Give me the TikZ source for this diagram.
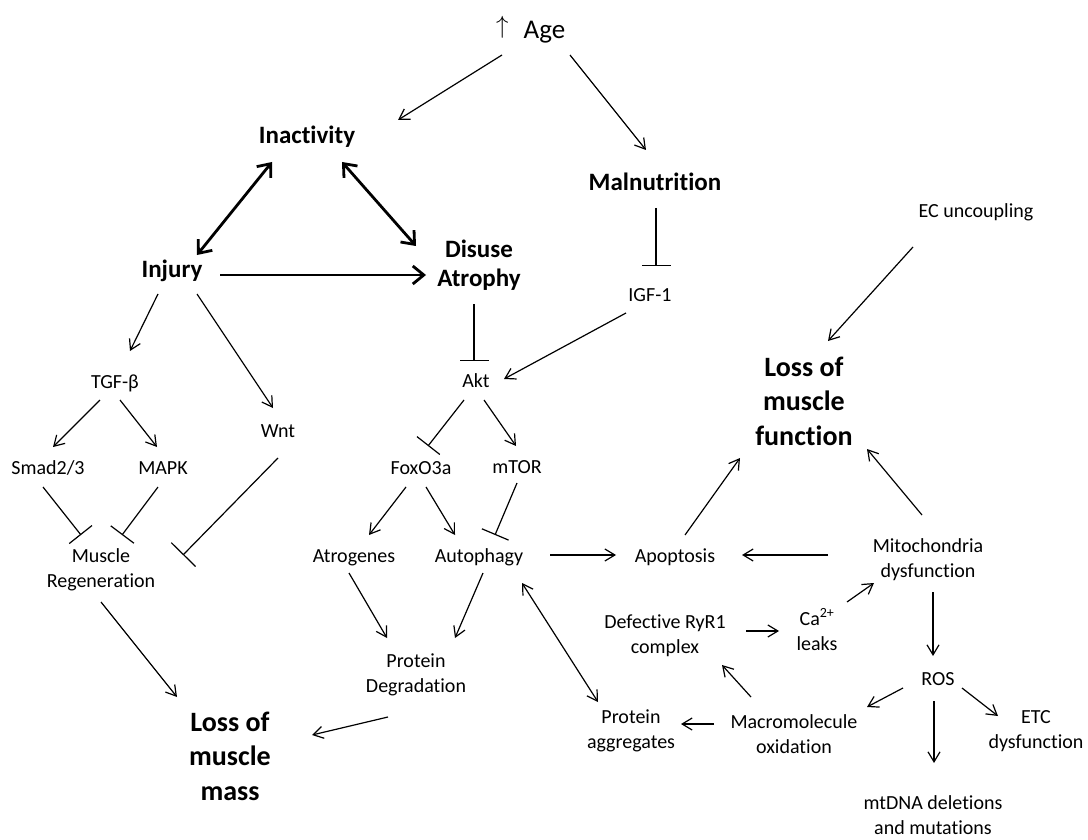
\documentclass[tikz,border=0pt]{standalone}
\usepackage{fontspec}
\setmainfont{Carlito}[Ligatures=NoCommon]
\usetikzlibrary{arrows.meta}
\begin{document}
\begin{tikzpicture}[x=1pt,y=-1pt,
  sm/.style={font=\fontsize{20}{25}\selectfont, align=center, inner sep=0pt},
  bm/.style={font=\fontsize{25}{30}\selectfont\bfseries, align=center, inner sep=0pt},
  bl/.style={font=\fontsize{28}{34.5}\selectfont\bfseries, align=center, inner sep=0pt},
  agef/.style={font=\fontsize{27}{32}\selectfont, inner sep=0pt},
  arr/.style={-{Straight Barb[length=10pt,width=12pt]}, line width=1.2pt},
  darr/.style={{Straight Barb[length=10pt,width=12pt]}-{Straight Barb[length=10pt,width=12pt]}, line width=1.2pt},
  tarr/.style={-{Straight Barb[length=11pt,width=18pt]}, line width=2.8pt},
  tdarr/.style={{Straight Barb[length=11pt,width=18pt]}-{Straight Barb[length=11pt,width=18pt]}, line width=2.8pt},
  inh/.style={-{Bar[width=29pt]}, line width=1.2pt},
  inhw/.style={-{Bar[width=34pt]}, line width=1.2pt}]
\useasboundingbox (0,0) rectangle (1088,840);

% nodes
\node[agef, anchor=base west] (age) at (496,39) {\raisebox{5pt}{$\uparrow$}\hspace{15pt}Age};
\node[bm] (inact) at (307,138) {\strut Inactivity};
\node[bm] (injury) at (172,271) {\strut Injury};
\node[bm] (mal) at (655,184) {\strut Malnutrition};
\node[bm] (disuse) at (479,266) {\strut Disuse\\\strut Atrophy};
\node[bl] (lmf) at (804,403.6) {\strut Loss of\\\strut muscle\\\strut function};
\node[bl] (lmm) at (230,758.6) {\strut Loss of\\\strut muscle\\\strut mass};

\node[sm] (tgf) at (115,383) {\strut TGF-β};
\node[sm] (smad) at (48,469) {\strut Smad2/3};
\node[sm] (mapk) at (163,469) {\strut MAPK};
\node[sm] (wnt) at (278,432) {\strut Wnt};
\node[sm] (igf) at (650,296) {\strut IGF-1};
\node[sm] (akt) at (476,382) {\strut Akt};
\node[sm] (ec) at (976,213) {\strut EC uncoupling};
\node[sm] (foxo) at (421,469) {\strut FoxO3a};
\node[sm] (mtor) at (517,468) {\strut mTOR};
\node[sm] (atro) at (354,557) {\strut Atrogenes};
\node[sm] (auto) at (479,557) {\strut Autophagy};
\node[sm] (apop) at (675,557) {\strut Apoptosis};
\node[sm] (ros) at (938,680) {\strut ROS};
\node[sm] (mr) at (101,569.5) {\strut Muscle\\\strut Regeneration};
\node[sm] (pd) at (416,674.5) {\strut Protein\\\strut Degradation};
\node[sm] (pa) at (631,730.5) {\strut Protein\\\strut aggregates};
\node[sm] (def) at (665,635.5) {\strut Defective RyR1\\\strut complex};
\node[sm] (ca) at (817,632.5) {\strut Ca\textsuperscript{2+}\\\strut leaks};
\node[sm] (mito) at (928,559.5) {\strut Mitochondria\\\strut dysfunction};
\node[sm] (macro) at (794,735.5) {\strut Macromolecule\\\strut oxidation};
\node[sm] (etc) at (1036,730.5) {\strut ETC\\\strut dysfunction};
\node[sm] (mtdna) at (933,817) {\strut mtDNA deletions\\\strut and mutations};

% connectors
\draw[arr] ([shift={(6,16)}]age.base west) -- ([shift={(91,-18)}]inact.center);
\draw[arr] ([shift={(74,16)}]age.base west) -- ([shift={(-9,-34)}]mal.center);
\draw[tdarr] ([shift={(-35,24)}]inact.center) -- ([shift={(25,-16)}]injury.center);
\draw[tdarr] ([shift={(35,24)}]inact.center) -- ([shift={(-63,-20)}]disuse.center);
\draw[tarr] ([shift={(48,4)}]injury.center) -- ([shift={(-53,9)}]disuse.center);
\draw[inh] ([shift={(1,24)}]mal.center) -- ([shift={(6,-30)}]igf.center);
\draw[arr] ([shift={(-24,17)}]igf.center) -- ([shift={(28,-3)}]akt.center);
\draw[inh] ([shift={(-5,38)}]disuse.center) -- ([shift={(-2,-21)}]akt.center);
\draw[arr] ([shift={(-63,34)}]ec.center) -- ([shift={(24,-62.6)}]lmf.center);
\draw[arr] ([shift={(-14,23)}]injury.center) -- ([shift={(15,-32)}]tgf.center);
\draw[arr] ([shift={(25,23)}]injury.center) -- ([shift={(-5,-24)}]wnt.center);
\draw[arr] ([shift={(-15,17)}]tgf.center) -- ([shift={(5,-22)}]smad.center);
\draw[arr] ([shift={(5,17)}]tgf.center) -- ([shift={(-6,-22)}]mapk.center);
\draw[inh] ([shift={(-5,18)}]smad.center) -- ([shift={(-20,-34.5)}]mr.center);
\draw[inh] ([shift={(-5,18)}]mapk.center) -- ([shift={(21,-34.5)}]mr.center);
\draw[inhw] ([shift={(0,26)}]wnt.center) -- ([shift={(82,-14.5)}]mr.center);
\draw[arr] ([shift={(0,32.5)}]mr.center) -- ([shift={(-53,-61.6)}]lmm.center);
\draw[inh] ([shift={(-12,18)}]akt.center) -- ([shift={(7,-23)}]foxo.center);
\draw[arr] ([shift={(8,18)}]akt.center) -- ([shift={(-1,-22)}]mtor.center);
\draw[arr] ([shift={(-15,18)}]foxo.center) -- ([shift={(15,-22)}]atro.center);
\draw[arr] ([shift={(5,18)}]foxo.center) -- ([shift={(-24,-22)}]auto.center);
\draw[inh] ([shift={(0,15)}]mtor.center) -- ([shift={(16,-22)}]auto.center);
\draw[arr] ([shift={(-5,16)}]atro.center) -- ([shift={(-29,-36.5)}]pd.center);
\draw[arr] ([shift={(4,16)}]auto.center) -- ([shift={(39,-36.5)}]pd.center);
\draw[arr] ([shift={(-28,42.5)}]pd.center) -- ([shift={(82,-23.6)}]lmm.center);
\draw[arr] ([shift={(71,-2)}]auto.center) -- ([shift={(-59,-2)}]apop.center);
\draw[darr] ([shift={(43,26)}]auto.center) -- ([shift={(-33,-28.5)}]pa.center);
\draw[arr] ([shift={(10,-22)}]apop.center) -- ([shift={(-64,54.4)}]lmf.center);
\draw[arr] ([shift={(-6,-44.5)}]mito.center) -- ([shift={(63,45.4)}]lmf.center);
\draw[arr] ([shift={(-100,-4.5)}]mito.center) -- ([shift={(67,-2)}]apop.center);
\draw[arr] ([shift={(81,-4.5)}]def.center) -- ([shift={(-38,-1.5)}]ca.center);
\draw[arr] ([shift={(30,-30.5)}]ca.center) -- ([shift={(-54,23.5)}]mito.center);
\draw[arr] ([shift={(5,32.5)}]mito.center) -- ([shift={(-5,-24)}]ros.center);
\draw[arr] ([shift={(-35,8)}]ros.center) -- ([shift={(73,-28.5)}]macro.center);
\draw[arr] ([shift={(24,8)}]ros.center) -- ([shift={(-38,-14.5)}]etc.center);
\draw[arr] ([shift={(-4,21)}]ros.center) -- ([shift={(1,-54)}]mtdna.center);
\draw[arr] ([shift={(-43,-38.5)}]macro.center) -- ([shift={(57,29.5)}]def.center);
\draw[arr] ([shift={(-80,-11.5)}]macro.center) -- ([shift={(50,-6.5)}]pa.center);
\end{tikzpicture}
\end{document}
